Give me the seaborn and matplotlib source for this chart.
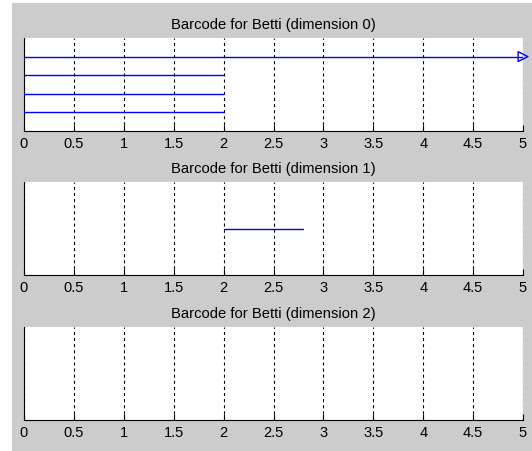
import numpy as np
import pandas as pd
import matplotlib
matplotlib.use("Agg")
import matplotlib.pyplot as plt
from matplotlib.patches import Rectangle
import seaborn as sns

# Persistence intervals per homology dimension (birth, death); inf = never dies
dim0_birth = [0.0, 0.0, 0.0, 0.0]
dim0_death = [2.0, 2.0, 2.0, np.inf]
dim1_birth = [2.0]
dim1_death = [2.8]
dim2_birth = []
dim2_death = []

x_max = 5.0
x_ticks = [0, 0.5, 1, 1.5, 2, 2.5, 3, 3.5, 4, 4.5, 5]
x_tick_labels = ["0", "0.5", "1", "1.5", "2", "2.5", "3", "3.5", "4", "4.5", "5"]
titles = [
    "Barcode for Betti (dimension 0)",
    "Barcode for Betti (dimension 1)",
    "Barcode for Betti (dimension 2)",
]

sns.set_style("white")
plt.rcParams["font.family"] = ["Liberation Sans", "DejaVu Sans"]
plt.rcParams["lines.scale_dashes"] = False

W, H = 532, 452
fig = plt.figure(figsize=(W / 100, H / 100), dpi=100, facecolor="white")

# grey window panel behind the axes
fig.patches.append(Rectangle((12 / W, 0), (W - 12) / W, (H - 4) / H,
                             transform=fig.transFigure, facecolor="#cccccc",
                             edgecolor="none", zorder=-10))

# axes boxes in pixels: (left, top, right, bottom)
boxes = [(24, 39, 523, 132), (24, 183, 523, 276), (24, 328, 523, 421)]
intervals = [(dim0_birth, dim0_death), (dim1_birth, dim1_death), (dim2_birth, dim2_death)]

for (l, t, r, b), (births, deaths), title in zip(boxes, intervals, titles):
    ax = fig.add_axes([l / W, 1 - b / H, (r - l) / W, (b - t) / H])
    ax.set_facecolor("white")
    n = len(births)

    rows = []
    arrows_x, arrows_y = [], []
    for i, (s, d) in enumerate(zip(births, deaths)):
        y = i + 1
        end = min(d, x_max)
        rows.append({"x": s, "y": y, "bar": i})
        rows.append({"x": end, "y": y, "bar": i})
        if np.isinf(d):
            arrows_x.append(x_max)
            arrows_y.append(y)

    if rows:
        df = pd.DataFrame(rows)
        sns.lineplot(data=df, x="x", y="y", units="bar", estimator=None,
                     sort=False, color="blue", lw=1.0, ax=ax, legend=False,
                     zorder=3)
    if arrows_x:
        sns.scatterplot(x=arrows_x, y=arrows_y, marker=">", s=50,
                        facecolors="none", edgecolors="blue", linewidth=1.0,
                        ax=ax, legend=False, clip_on=False, zorder=4)

    ax.set_xlim(0, x_max)
    ax.set_ylim(0, n + 1 if n else 1)
    ax.set_xticks(x_ticks)
    ax.set_xticklabels(x_tick_labels)
    ax.set_yticks([])
    ax.set_xlabel("")
    ax.set_ylabel("")

    ax.grid(axis="x", color="black", linestyle=(0, (2.2, 2.2)), lw=0.8)
    ax.set_axisbelow(True)

    for side in ("top", "right"):
        ax.spines[side].set_visible(False)
    for side in ("left", "bottom"):
        ax.spines[side].set_color("black")
        ax.spines[side].set_linewidth(0.8)

    ax.tick_params(axis="x", direction="in", length=4, width=0.8, pad=3.5,
                   labelsize=10.5, colors="black", bottom=True, top=False)
    ax.tick_params(axis="y", left=False, labelleft=False)
    ax.set_title(title, fontsize=10.6, pad=7.0, color="black")

fig.savefig("out.png", dpi=100, facecolor=fig.get_facecolor())
